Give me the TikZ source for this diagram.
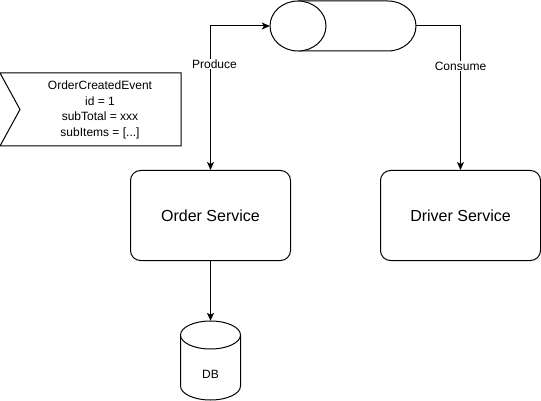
\documentclass[tikz,border=0pt]{standalone}
\usepackage{fontspec}
\setmainfont{Liberation Sans}
\usetikzlibrary{arrows.meta}
\begin{document}
\begin{tikzpicture}[x=1pt,y=-1pt,
  shape line/.style={draw=black,line width=1pt},
  service/.style={shape line,rounded corners=10pt,minimum width=160pt,minimum height=90pt,inner sep=0pt,font=\fontsize{16}{19}\selectfont},
  conn/.style={draw=black,line width=1pt,-{Stealth[length=8pt,width=7pt,inset=2pt]}},
  lbl/.style={fill=white,inner sep=1pt,font=\fontsize{12}{14}\selectfont}]
\useasboundingbox (0,0) rectangle (541,401);
% event shape
\draw[shape line,fill=white] (0,73) -- (181,73) -- (181,146) -- (0,146) -- (20,109.5) -- cycle;
\node (ev) at (100,110) [align=center,inner sep=0pt,font=\fontsize{12}{15.5}\selectfont]
  {OrderCreatedEvent\\id = 1\\subTotal = xxx\\subItems = [...]};
% queue
\node (q) at (343,26) [minimum width=146pt,minimum height=50pt,inner sep=0pt] {};
\draw[shape line,fill=white] (298,1) -- (388,1) arc[start angle=-90,end angle=90,x radius=28,y radius=25] -- (298,51);
\draw[shape line,fill=white] (298,26) ellipse[x radius=28,y radius=25];
% services
\node[service] (os) at (210.5,215.5) {Order Service};
\node[service] (ds) at (460.5,215.5) {Driver Service};
% DB
\node (db) at (210.5,360.5) [minimum width=60pt,minimum height=79pt,inner sep=0pt] {};
\draw[shape line,fill=white] (180.5,335) -- (180.5,386) arc[start angle=180,end angle=0,x radius=30,y radius=14] -- (240.5,335);
\draw[shape line,fill=white] (210.5,335) ellipse[x radius=30,y radius=14];
\node at (210.5,374) [font=\fontsize{12}{14}\selectfont] {DB};
% connectors
\draw[conn,{Stealth[length=8pt,width=7pt,inset=2pt]}-{Stealth[length=8pt,width=7pt,inset=2pt]}] (os.north) |- (q.west) node[lbl,pos=0.368,xshift=4pt] {Produce};
\draw[conn] (q.east) -| (ds.north) node[lbl,pos=0.639] {Consume};
\draw[conn] (os.south) -- (db.north);
\end{tikzpicture}
\end{document}
